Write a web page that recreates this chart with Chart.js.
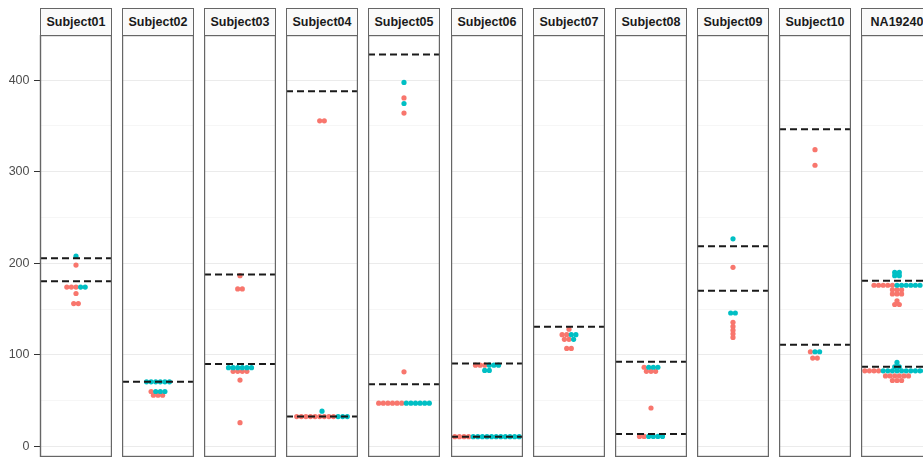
<!DOCTYPE html>
<html>
<head>
<meta charset="utf-8">
<script src="https://cdn.jsdelivr.net/npm/chart.js@4.4.1/dist/chart.umd.min.js"></script>
<style>
  html, body { margin: 0; padding: 0; background: #fff; }
  #stage { position: relative; width: 923px; height: 459px; overflow: hidden; }
  .strip {
    position: absolute; top: 8px; height: 28px; box-sizing: border-box;
    border: 1px solid #666; background: #fafafa; color: #1a1a1a;
    font: bold 12.5px "Liberation Sans", Arial, sans-serif;
    text-align: center; line-height: 26px; white-space: nowrap; overflow: hidden;
  }
  .panel { position: absolute; top: 35px; }
</style>
</head>
<body>
<div id="stage"></div>
<script>
// facets
const panels = ["Subject01", "Subject02", "Subject03", "Subject04", "Subject05", "Subject06",
                "Subject07", "Subject08", "Subject09", "Subject10", "NA19240"];

// salmon group values, one list per facet
const groupA = [
  [198, 174, 174, 174, 167, 156, 156],
  [60, 56, 56, 56],
  [186.5, 172, 172, 82, 82, 82, 82, 72.5, 26],
  [355.5, 355.5, 32.6, 32.6, 32.6, 32.6, 32.6, 32.6, 32.6, 32.6, 32.6],
  [380.5, 364, 81.5, 47.3, 47.3, 47.3, 47.3, 47.3, 47.3],
  [88.8, 88.8, 88.8, 10.7, 10.7, 10.7, 10.7],
  [128, 122, 122, 117, 117, 107, 107],
  [86.5, 82, 82, 82, 42, 11, 11],
  [195.6, 135.5, 131, 127, 123, 119],
  [324, 307, 103.4, 96.5, 96.5],
  [176, 176, 176, 176, 176, 171, 171, 171, 166.5, 166.5, 166.5, 159, 155, 155,
   82.6, 82.6, 82.6, 82.6, 77, 77, 77, 77, 77, 77, 72, 72, 72]
];

// teal group values, one list per facet
const groupB = [
  [207.7, 174, 174],
  [70.6, 70.6, 70.6, 70.6, 70.6, 70.6, 60, 60, 60],
  [86, 86, 86, 86, 86, 86],
  [38.5, 32.6, 32.6, 32.6],
  [397.4, 374.4, 47.3, 47.3, 47.3, 47.3, 47.3, 47.3],
  [88.8, 88.8, 88.8, 83, 83, 10.7, 10.7, 10.7, 10.7, 10.7, 10.7, 10.7, 10.7, 10.7, 10.7, 10.7],
  [122, 122, 117],
  [86.5, 86.5, 86.5, 11, 11, 11, 11],
  [226.7, 145.7, 145.7],
  [103.4, 103.4],
  [190, 190, 186.5, 186.5, 176, 176, 176, 176, 176, 176, 91.7, 87, 87,
   82.6, 82.6, 82.6, 82.6, 82.6, 82.6, 82.6, 82.6, 82.6, 82.6, 82.6]
];

// dashed reference lines per facet
const cutoffs = [
  [205.5, 180.3], [70.6], [187.6, 90], [387.9, 32.6], [428, 68], [90.6, 10.7],
  [130.7], [92.4, 13.7], [218.6, 170], [346.3, 111], [181, 87]
];

const yTicks = [0, 50, 100, 150, 200, 250, 300, 350, 400];

const SALMON = "#F8766D";
const TEAL = "#00BFC4";
const DOT_GAP = 4.6;      // px between neighbouring dots in a swarm row
const HALF_W = 36;        // panel half width in px (x scale is in px)

// simple beeswarm: equal values share a row, salmon first then teal, centred
function swarm(a, b) {
  const rows = new Map();
  a.forEach((v) => { if (!rows.has(v)) rows.set(v, { a: 0, b: 0 }); rows.get(v).a++; });
  b.forEach((v) => { if (!rows.has(v)) rows.set(v, { a: 0, b: 0 }); rows.get(v).b++; });
  const outA = [], outB = [];
  rows.forEach((r, v) => {
    const n = r.a + r.b;
    for (let k = 0; k < n; k++) {
      const p = { x: (k - (n - 1) / 2) * DOT_GAP, y: v };
      (k < r.a ? outA : outB).push(p);
    }
  });
  return [outA, outB];
}

const frame = {
  id: "frame",
  afterDraw(chart) {
    const { ctx, chartArea: c } = chart;
    ctx.save();
    ctx.strokeStyle = "#666";
    ctx.lineWidth = 1.4;
    ctx.strokeRect(c.left + 0.5, c.top + 0.5, c.right - c.left - 1, c.bottom - c.top - 1);
    ctx.restore();
  }
};

const stage = document.getElementById("stage");
const H = 422;

panels.forEach((name, i) => {
  const left = Math.round(40 + 82.1 * i);
  const strip = document.createElement("div");
  strip.className = "strip";
  strip.style.left = left + "px";
  strip.style.width = "72px";
  strip.textContent = name;
  stage.appendChild(strip);

  const first = i === 0;
  const cw = first ? 112 : 72;
  const canvas = document.createElement("canvas");
  canvas.className = "panel";
  canvas.width = cw; canvas.height = H;
  canvas.style.width = cw + "px"; canvas.style.height = H + "px";
  canvas.style.left = (first ? 0 : left) + "px";
  stage.appendChild(canvas);

  const [ptsA, ptsB] = swarm(groupA[i], groupB[i]);
  const dashed = cutoffs[i].map((v) => ({
    data: [{ x: -HALF_W, y: v }, { x: HALF_W, y: v }],
    showLine: true, pointRadius: 0, borderColor: "#1a1a1a",
    borderWidth: 2, borderDash: [7, 4], order: 0, clip: 0
  }));

  new Chart(canvas, {
    type: "scatter",
    data: {
      datasets: [
        { data: ptsA, backgroundColor: SALMON, borderWidth: 0, pointRadius: 2.6, order: 2 },
        { data: ptsB, backgroundColor: TEAL, borderWidth: 0, pointRadius: 2.6, order: 1 },
        ...dashed
      ]
    },
    options: {
      responsive: false,
      devicePixelRatio: 1,
      animation: false,
      events: [],
      layout: { padding: 0, autoPadding: false },
      plugins: { legend: { display: false }, tooltip: { enabled: false } },
      scales: {
        x: { type: "linear", min: -HALF_W, max: HALF_W, display: false },
        y: {
          type: "linear", min: -11.5, max: 449.2,
          afterBuildTicks: (s) => { s.ticks = yTicks.map((v) => ({ value: v })); },
          afterFit: (s) => { s.width = first ? 40 : 0; s.paddingTop = 0; s.paddingBottom = 0; },
          border: { display: false },
          grid: {
            color: (c) => (c.tick && c.tick.value % 100 === 0 ? "#ebebeb" : "#f2f2f2"),
            lineWidth: (c) => (c.tick && c.tick.value % 100 === 0 ? 1 : 0.7),
            drawTicks: first,
            tickLength: 6,
            tickColor: (c) => (c.tick && c.tick.value % 100 === 0 ? "#333" : "rgba(0,0,0,0)")
          },
          ticks: {
            display: first,
            padding: 4.5,
            color: "#4d4d4d",
            font: { family: "Liberation Sans", size: 12.5 },
            callback: (v) => (v % 100 === 0 ? String(v) : "")
          }
        }
      }
    },
    plugins: [frame]
  });
});
</script>
</body>
</html>
